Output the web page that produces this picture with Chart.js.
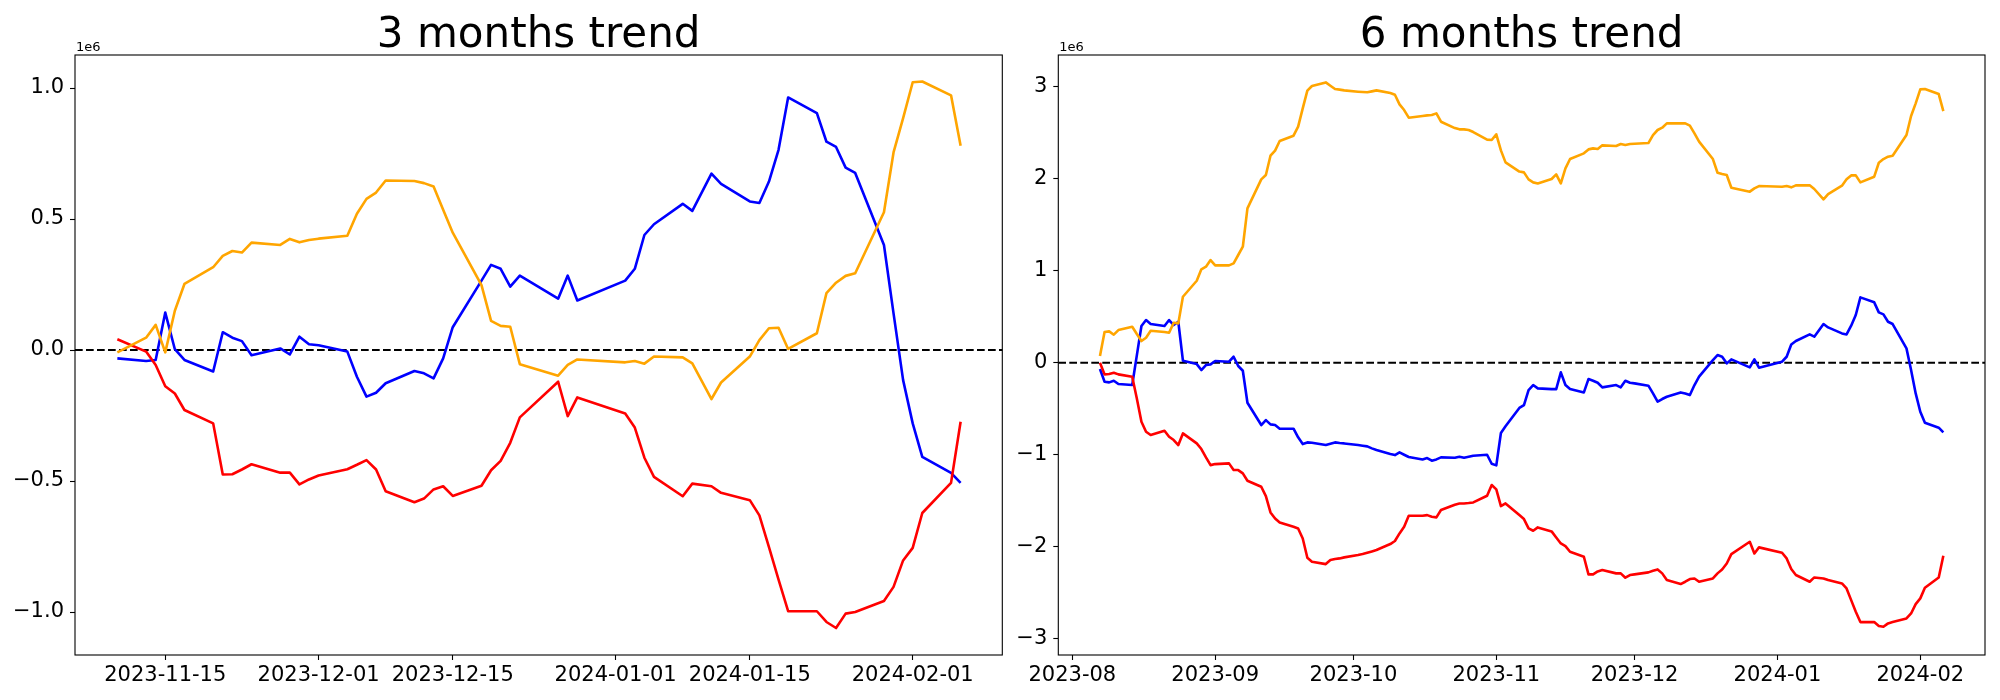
<!DOCTYPE html>
<html>
<head>
<meta charset="utf-8">
<script src="https://cdn.jsdelivr.net/npm/chart.js@4.4.1/dist/chart.umd.min.js"></script>
<style>
    html, body { margin: 0; padding: 0; background: #fff; }
    #wrap { position: relative; width: 2000px; height: 700px; }
    #wrap canvas { position: absolute; left: 0; top: 0; }
</style>
</head>
<body>
<div id="wrap">
    <canvas id="chart3m" width="2000" height="700"></canvas>
    <canvas id="chart6m" width="2000" height="700"></canvas>
</div>
<script>
// DATA (values in units of 1e6)
var dates3m = [
    '2023-11-10', '2023-11-13', '2023-11-14', '2023-11-15', '2023-11-16', '2023-11-17',
    '2023-11-20', '2023-11-21', '2023-11-22', '2023-11-23', '2023-11-24',
    '2023-11-27', '2023-11-28', '2023-11-29', '2023-11-30', '2023-12-01',
    '2023-12-04', '2023-12-05', '2023-12-06', '2023-12-07', '2023-12-08',
    '2023-12-11', '2023-12-12', '2023-12-13', '2023-12-14', '2023-12-15',
    '2023-12-18', '2023-12-19', '2023-12-20', '2023-12-21', '2023-12-22',
    '2023-12-26', '2023-12-27', '2023-12-28',
    '2024-01-02', '2024-01-03', '2024-01-04', '2024-01-05',
    '2024-01-08', '2024-01-09', '2024-01-11', '2024-01-12',
    '2024-01-15', '2024-01-16', '2024-01-17', '2024-01-18', '2024-01-19',
    '2024-01-22', '2024-01-23', '2024-01-24', '2024-01-25', '2024-01-26',
    '2024-01-29', '2024-01-30', '2024-01-31', '2024-02-01', '2024-02-02',
    '2024-02-05', '2024-02-06'
];
var blue3m = [
    -0.032, -0.042, -0.038, 0.143, 0.003, -0.038,
    -0.082, 0.068, 0.047, 0.034, -0.020,
    0.006, -0.017, 0.051, 0.022, 0.018,
    -0.006, -0.102, -0.178, -0.163, -0.127,
    -0.080, -0.089, -0.108, -0.032, 0.087,
    0.265, 0.325, 0.310, 0.242, 0.284,
    0.196, 0.284, 0.189,
    0.265, 0.310, 0.439, 0.480,
    0.558, 0.531, 0.673, 0.634,
    0.567, 0.561, 0.643, 0.764, 0.964,
    0.904, 0.795, 0.775, 0.696, 0.676,
    0.401, 0.140, -0.115, -0.280, -0.408,
    -0.469, -0.507
];
var red3m = [
    0.041, -0.006, -0.057, -0.138, -0.166, -0.229,
    -0.280, -0.475, -0.474, -0.456, -0.436,
    -0.468, -0.468, -0.513, -0.494, -0.479,
    -0.455, -0.438, -0.420, -0.456, -0.539,
    -0.581, -0.567, -0.532, -0.520, -0.557,
    -0.518, -0.459, -0.423, -0.354, -0.257,
    -0.121, -0.252, -0.181,
    -0.242, -0.296, -0.411, -0.484,
    -0.558, -0.510, -0.520, -0.545,
    -0.573, -0.631, -0.752, -0.876, -0.997,
    -0.997, -1.038, -1.061, -1.006, -1.000,
    -0.958, -0.904, -0.803, -0.755, -0.622,
    -0.507, -0.274
];
var orange3m = [
    -0.009, 0.047, 0.096, -0.009, 0.150, 0.252,
    0.316, 0.359, 0.378, 0.372, 0.410,
    0.401, 0.424, 0.411, 0.420, 0.425,
    0.436, 0.520, 0.577, 0.601, 0.647,
    0.645, 0.637, 0.624, 0.535, 0.448,
    0.248, 0.111, 0.092, 0.089, -0.054,
    -0.098, -0.057, -0.036,
    -0.047, -0.042, -0.052, -0.025,
    -0.028, -0.051, -0.187, -0.124,
    -0.025, 0.038, 0.083, 0.085, 0.004,
    0.064, 0.217, 0.257, 0.283, 0.293,
    0.526, 0.754, 0.885, 1.022, 1.025,
    0.972, 0.780
];

var dates6m = [
    '2023-08-07', '2023-08-08', '2023-08-09', '2023-08-10', '2023-08-11', '2023-08-14', '2023-08-15', '2023-08-16', '2023-08-17', '2023-08-18',
    '2023-08-21', '2023-08-22', '2023-08-23', '2023-08-24', '2023-08-25', '2023-08-28', '2023-08-29', '2023-08-30', '2023-08-31',
    '2023-09-01', '2023-09-04', '2023-09-05', '2023-09-06', '2023-09-07', '2023-09-08', '2023-09-11', '2023-09-12', '2023-09-13', '2023-09-14', '2023-09-15',
    '2023-09-18', '2023-09-19', '2023-09-20', '2023-09-21', '2023-09-22', '2023-09-25', '2023-09-26', '2023-09-27', '2023-09-28', '2023-09-29',
    '2023-10-02', '2023-10-03', '2023-10-04', '2023-10-05', '2023-10-06', '2023-10-09', '2023-10-10', '2023-10-11', '2023-10-12', '2023-10-13',
    '2023-10-16', '2023-10-17', '2023-10-18', '2023-10-19', '2023-10-20', '2023-10-23', '2023-10-24', '2023-10-25', '2023-10-26', '2023-10-27',
    '2023-10-30', '2023-10-31',
    '2023-11-01', '2023-11-02', '2023-11-03', '2023-11-06', '2023-11-07', '2023-11-08', '2023-11-09', '2023-11-10', '2023-11-13', '2023-11-14',
    '2023-11-15', '2023-11-16', '2023-11-17', '2023-11-20', '2023-11-21', '2023-11-22', '2023-11-23', '2023-11-24', '2023-11-27', '2023-11-28',
    '2023-11-29', '2023-11-30',
    '2023-12-01', '2023-12-04', '2023-12-05', '2023-12-06', '2023-12-07', '2023-12-08', '2023-12-11', '2023-12-12', '2023-12-13', '2023-12-14',
    '2023-12-15', '2023-12-18', '2023-12-19', '2023-12-20', '2023-12-21', '2023-12-22', '2023-12-26', '2023-12-27', '2023-12-28',
    '2024-01-02', '2024-01-03', '2024-01-04', '2024-01-05', '2024-01-08', '2024-01-09', '2024-01-11', '2024-01-12', '2024-01-15', '2024-01-16',
    '2024-01-17', '2024-01-18', '2024-01-19', '2024-01-22', '2024-01-23', '2024-01-24', '2024-01-25', '2024-01-26', '2024-01-29', '2024-01-30',
    '2024-01-31',
    '2024-02-01', '2024-02-02', '2024-02-05', '2024-02-06'
];
var blue6m = [
    -0.069, -0.207, -0.214, -0.196, -0.232, -0.243, 0.080, 0.399, 0.464, 0.421,
    0.399, 0.464, 0.410, 0.446, 0.022, -0.015, -0.080, -0.025, -0.018,
    0.018, 0.011, 0.065, -0.036, -0.087, -0.435, -0.678, -0.624, -0.671, -0.678, -0.718,
    -0.718, -0.812, -0.885, -0.867, -0.870, -0.896, -0.881, -0.867, -0.874, -0.878,
    -0.896, -0.903, -0.910, -0.932, -0.950, -0.994, -1.005, -0.976, -1.001, -1.026,
    -1.052, -1.037, -1.066, -1.052, -1.030, -1.034, -1.023, -1.034, -1.023, -1.012,
    -1.001, -1.099,
    -1.117, -0.765, -0.692, -0.492, -0.461, -0.297, -0.243, -0.279, -0.287, -0.287,
    -0.105, -0.243, -0.287, -0.323, -0.178, -0.196, -0.218, -0.268, -0.243, -0.268,
    -0.196, -0.218,
    -0.225, -0.250, -0.334, -0.424, -0.395, -0.370, -0.323, -0.334, -0.352, -0.243,
    -0.152, 0.029, 0.083, 0.065, -0.007, 0.036, -0.051, 0.036, -0.054,
    0.011, 0.065, 0.199, 0.236, 0.308, 0.283, 0.421, 0.384, 0.319, 0.308,
    0.403, 0.519, 0.711, 0.657, 0.548, 0.526, 0.446, 0.421, 0.156, -0.080,
    -0.334,
    -0.533, -0.653, -0.707, -0.758
];
var red6m = [
    0.000, -0.127, -0.123, -0.109, -0.127, -0.152, -0.390, -0.642, -0.751, -0.787,
    -0.740, -0.805, -0.841, -0.896, -0.769, -0.878, -0.939, -1.030, -1.114,
    -1.103, -1.095, -1.168, -1.168, -1.204, -1.284, -1.349, -1.451, -1.629, -1.694, -1.738,
    -1.785, -1.803, -1.912, -2.122, -2.165, -2.191, -2.147, -2.136, -2.129, -2.118,
    -2.093, -2.082, -2.067, -2.053, -2.038, -1.973, -1.940, -1.857, -1.785, -1.665,
    -1.665, -1.658, -1.676, -1.683, -1.603, -1.545, -1.531, -1.531, -1.527, -1.520,
    -1.447, -1.331,
    -1.378, -1.560, -1.531, -1.658, -1.701, -1.803, -1.828, -1.792, -1.835, -1.901,
    -1.966, -1.995, -2.057, -2.111, -2.303, -2.303, -2.271, -2.256, -2.292, -2.292,
    -2.339, -2.310,
    -2.303, -2.281, -2.263, -2.249, -2.292, -2.365, -2.408, -2.383, -2.354, -2.347,
    -2.383, -2.347, -2.292, -2.249, -2.184, -2.082, -1.948, -2.075, -2.009,
    -2.067, -2.129, -2.245, -2.310, -2.383, -2.336, -2.347, -2.365, -2.401, -2.456,
    -2.583, -2.709, -2.822, -2.822, -2.865, -2.873, -2.836, -2.822, -2.782, -2.728,
    -2.626,
    -2.564, -2.448, -2.336, -2.100
];
var orange6m = [
    0.073, 0.334, 0.341, 0.305, 0.355, 0.392, 0.312, 0.236, 0.272, 0.348,
    0.334, 0.326, 0.435, 0.428, 0.718, 0.892, 1.016, 1.045, 1.117,
    1.059, 1.059, 1.081, 1.172, 1.262, 1.679, 1.995, 2.042, 2.252, 2.307, 2.412,
    2.470, 2.568, 2.767, 2.960, 3.011, 3.050, 3.014, 2.978, 2.971, 2.963,
    2.949, 2.945, 2.942, 2.952, 2.963, 2.934, 2.916, 2.811, 2.749, 2.666,
    2.684, 2.691, 2.695, 2.713, 2.622, 2.553, 2.539, 2.539, 2.532, 2.510,
    2.427, 2.423,
    2.485, 2.310, 2.180, 2.080, 2.071, 1.995, 1.962, 1.951, 1.999, 2.049,
    1.951, 2.115, 2.216, 2.278, 2.321, 2.332, 2.325, 2.365, 2.358, 2.379,
    2.369, 2.379,
    2.383, 2.390, 2.477, 2.532, 2.557, 2.604, 2.604, 2.604, 2.579, 2.495,
    2.405, 2.216, 2.067, 2.053, 2.042, 1.904, 1.861, 1.897, 1.922,
    1.915, 1.922, 1.908, 1.930, 1.930, 1.890, 1.777, 1.835, 1.926, 1.995,
    2.038, 2.038, 1.962, 2.024, 2.176, 2.216, 2.242, 2.252, 2.477, 2.684,
    2.822,
    2.974, 2.978, 2.923, 2.738
];

var ticks3m = ['2023-11-15', '2023-12-01', '2023-12-15', '2024-01-01', '2024-01-15', '2024-02-01'];
var ticks6m = ['2023-08-01', '2023-09-01', '2023-10-01', '2023-11-01', '2023-12-01', '2024-01-01', '2024-02-01'];
var yTicks3m = [-1.0, -0.5, 0.0, 0.5, 1.0];
var yTicks6m = [-3, -2, -1, 0, 1, 2, 3];


var DAY = 86400000;
var FONT = '"DejaVu Sans", sans-serif';

function dayNum(s) {
    var p = s.split('-');
    return Date.UTC(+p[0], +p[1] - 1, +p[2]) / DAY;
}

function dayLabel(d, monthOnly) {
    var s = new Date(Math.round(d) * DAY).toISOString().slice(0, 10);
    return monthOnly ? s.slice(0, 7) : s;
}

function toPoints(dates, values) {
    return dates.map(function (d, i) {
        return { x: dayNum(d), y: values[i] };
    });
}

// zero line, frame, title and the 1e6 offset text
var framePlugin = {
    id: 'frame',
    beforeDatasetsDraw: function (chart) {
        var ctx = chart.ctx, a = chart.chartArea;
        var y0 = chart.scales.y.getPixelForValue(0);
        ctx.save();
        ctx.strokeStyle = '#000';
        ctx.lineWidth = 2;
        ctx.setLineDash([7.7, 3.3]);
        ctx.beginPath();
        ctx.moveTo(a.left, y0);
        ctx.lineTo(a.right, y0);
        ctx.stroke();
        ctx.restore();
    },
    afterDraw: function (chart) {
        var ctx = chart.ctx, a = chart.chartArea;
        var o = chart.options.plugins.frame;
        ctx.save();
        ctx.strokeStyle = '#000';
        ctx.lineWidth = 1.1;
        ctx.strokeRect(a.left, a.top, a.right - a.left, a.bottom - a.top);
        ctx.fillStyle = '#000';
        ctx.font = '42px ' + FONT;
        ctx.textAlign = 'center';
        ctx.textBaseline = 'alphabetic';
        ctx.fillText(o.title, (a.left + a.right) / 2, 46.5);
        ctx.font = '13px ' + FONT;
        ctx.textAlign = 'left';
        ctx.fillText('1e6', a.left + 1, 50.5);
        ctx.restore();
    }
};

function makeChart(id, cfg) {
    var ctx = document.getElementById(id).getContext('2d');
    return new Chart(ctx, {
        type: 'line',
        data: {
            datasets: [
                { data: toPoints(cfg.dates, cfg.orange), borderColor: '#ffa500' },
                { data: toPoints(cfg.dates, cfg.red), borderColor: '#ff0000' },
                { data: toPoints(cfg.dates, cfg.blue), borderColor: '#0000ff' }
            ]
        },
        options: {
            responsive: false,
            animation: false,
            devicePixelRatio: 1,
            layout: { padding: cfg.padding },
            elements: {
                line: { borderWidth: 2.6, tension: 0, fill: false, borderCapStyle: 'butt', borderJoinStyle: 'round' },
                point: { radius: 0, hoverRadius: 0 }
            },
            plugins: {
                legend: { display: false },
                tooltip: { enabled: false },
                frame: { title: cfg.title }
            },
            scales: {
                x: {
                    type: 'linear',
                    min: cfg.xMin,
                    max: cfg.xMax,
                    afterBuildTicks: function (scale) {
                        scale.ticks = cfg.xTicks.map(function (t) { return { value: dayNum(t) }; });
                    },
                    afterFit: function (scale) { scale.height = 45; },
                    border: { display: false },
                    grid: {
                        drawOnChartArea: false,
                        drawTicks: true,
                        tickLength: 5,
                        tickColor: '#000',
                        tickWidth: 1.1
                    },
                    ticks: {
                        color: '#000',
                        font: { family: FONT, size: 21 },
                        padding: 3,
                        maxRotation: 0,
                        autoSkip: false,
                        callback: function (value) { return dayLabel(value, cfg.monthOnly); }
                    }
                },
                y: {
                    min: cfg.yMin,
                    max: cfg.yMax,
                    afterBuildTicks: function (scale) {
                        scale.ticks = cfg.yTicks.map(function (t) { return { value: t }; });
                    },
                    afterFit: function (scale) { scale.width = cfg.yWidth; },
                    border: { display: false },
                    grid: {
                        drawOnChartArea: false,
                        drawTicks: true,
                        tickLength: 5,
                        tickColor: '#000',
                        tickWidth: 1.1
                    },
                    ticks: {
                        color: '#000',
                        font: { family: FONT, size: 21 },
                        padding: 6,
                        autoSkip: false,
                        callback: function (value) {
                            return value.toFixed(cfg.yDecimals).replace('-', '\u2212');
                        }
                    }
                }
            }
        },
        plugins: [framePlugin]
    });
}

makeChart('chart3m', {
    title: '3 months trend',
    dates: dates3m, blue: blue3m, red: red3m, orange: orange3m,
    xTicks: ticks3m, monthOnly: false,
    xMin: dayNum('2023-11-15') - 9.42, xMax: dayNum('2024-02-01') + 9.35,
    yTicks: yTicks3m, yDecimals: 1, yMin: -1.164, yMax: 1.126,
    yWidth: 75,
    padding: { left: 0, right: 997.7, top: 55, bottom: 0 }
});

makeChart('chart6m', {
    title: '6 months trend',
    dates: dates6m, blue: blue6m, red: red6m, orange: orange6m,
    xTicks: ticks6m, monthOnly: true,
    xMin: dayNum('2023-08-01') - 3.04, xMax: dayNum('2024-02-01') + 14.04,
    yTicks: yTicks6m, yDecimals: 0, yMin: -3.18, yMax: 3.348,
    yWidth: 60,
    padding: { left: 998.3, right: 15, top: 55, bottom: 0 }
});
</script>
</body>
</html>
